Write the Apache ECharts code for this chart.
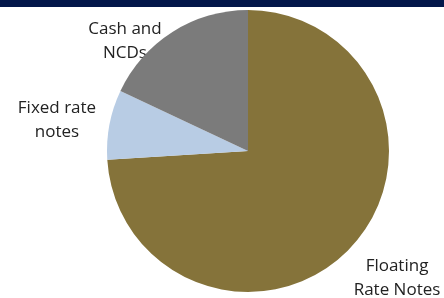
<!DOCTYPE html>
<html>
<head>
    <meta charset="UTF-8">
    <title>Portfolio composition</title>
    <script src="https://cdn.jsdelivr.net/npm/echarts@6/dist/echarts.min.js"></script>
    <style>
        html, body {
            margin: 0;
            padding: 0;
            background: #fff;
        }

        #chart {
            width: 444px;
            height: 298px;
        }
    </style>
</head>
<body>
<div id="chart"></div>
<script>
    // slices, clockwise from 12 o'clock
    var names = ['Floating\nRate Notes', 'Fixed rate\nnotes', 'Cash and\nNCDs'];
    var shares = [74, 8, 18];
    var colors = ['#85733a', '#b8cce4', '#7b7b7b'];
    // where each label sits (centre of text block)
    var labelPos = [[397, 278], [57, 120], [125, 41]];

    var data = [];
    var labels = [];
    for (var i = 0; i < names.length; i++) {
        data.push({name: names[i], value: shares[i], itemStyle: {color: colors[i]}});
        labels.push({
            type: 'text'
            , x: labelPos[i][0]
            , y: labelPos[i][1]
            , style: {
                text: names[i]
                , fill: '#222'
                , font: '17px "Open Sans"'
                , lineHeight: 24
                , align: 'center'
                , verticalAlign: 'middle'
            }
        });
    }

    var chart = echarts.init(document.getElementById('chart'));
    chart.setOption({
        animation: false
        , graphic: [{
            type: 'rect'
            , left: 0
            , top: 0
            , shape: {width: 444, height: 7}
            , style: {fill: '#03174a'}
        }].concat(labels)
        , series: [{
            type: 'pie'
            , center: [248, 151]
            , radius: 141
            , startAngle: 90
            , clockwise: true
            , data: data
            , label: {show: false}
            , labelLine: {show: false}
        }]
    });
</script>
</body>
</html>
